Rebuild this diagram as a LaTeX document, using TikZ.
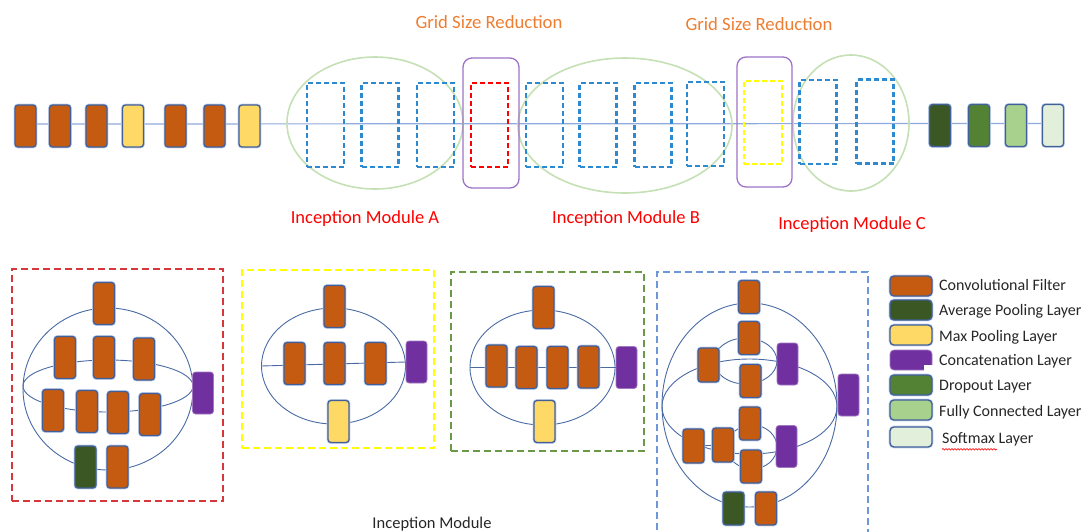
\documentclass[tikz,border=0pt]{standalone}
\usepackage{fontspec}
\setmainfont{Carlito}
\usetikzlibrary{shapes.geometric,backgrounds,decorations.pathmorphing}
\definecolor{cconv}{HTML}{C55A11}
\definecolor{cbord}{HTML}{41609A}
\definecolor{cmpool}{HTML}{FFD966}
\definecolor{capool}{HTML}{3A5724}
\definecolor{cdrop}{HTML}{548235}
\definecolor{cfc}{HTML}{A9D18E}
\definecolor{csmax}{HTML}{E2EFDA}
\definecolor{cconcat}{HTML}{7030A0}
\definecolor{cdash}{HTML}{2E8AD0}
\definecolor{cellg}{HTML}{C5E0B4}
\definecolor{cgrp}{HTML}{9E72C8}
\definecolor{caxis}{HTML}{8FAADC}
\definecolor{cttl}{HTML}{ED7D31}
\definecolor{cpline}{HTML}{4A6AA5}
\definecolor{cpred}{HTML}{D6373A}
\definecolor{cpyel}{HTML}{FFFF00}
\definecolor{cpgrn}{HTML}{6A9A48}
\definecolor{cpblu}{HTML}{6E96D8}
\definecolor{ctxt}{HTML}{262626}
\tikzset{
  blk/.style={rectangle, rounded corners=3pt, draw=cbord, line width=1.3pt,
    minimum width=21pt, minimum height=42pt, inner sep=0pt, outer sep=0pt,
    preaction={draw=caxis!55, line width=2.8pt}},
  sblk/.style={blk, minimum height=33pt},
  lblk/.style={blk, minimum width=42pt, minimum height=20pt, rounded corners=4pt},
  fconv/.style={fill=cconv},
  fmpool/.style={fill=cmpool},
  fapool/.style={fill=capool},
  fdrop/.style={fill=cdrop},
  ffc/.style={fill=cfc},
  fsmax/.style={fill=csmax},
  cc/.style={rectangle, rounded corners=3pt, fill=cconcat, draw=cconcat!65!white,
    line width=0.8pt, minimum width=21pt, minimum height=42pt, inner sep=0pt},
  dbox/.style={rectangle, draw=cdash, line width=2.2pt, dash pattern=on 5pt off 3pt,
    minimum width=37pt, minimum height=84pt, inner sep=0pt},
  gell/.style={ellipse, draw=cellg, line width=1.6pt, inner sep=0pt},
  grp/.style={rectangle, rounded corners=9pt, draw=cgrp, line width=1.3pt,
    minimum width=56pt, minimum height=130pt, inner sep=0pt},
  pell/.style={ellipse, draw=cpline, line width=0.9pt, inner sep=0pt},
  panel/.style={rectangle, line width=2pt, dash pattern=on 7pt off 4pt, inner sep=0pt},
  ttl/.style={text=cttl, font=\fontsize{18.7}{20}\selectfont},
  mod/.style={text=red, font=\fontsize{18.5}{20}\selectfont},
  lgt/.style={text=ctxt, font=\fontsize{16}{18}\selectfont, anchor=base west, inner sep=0pt},
}
\begin{document}
\begin{tikzpicture}[x=1pt,y=-1pt]
\useasboundingbox (0,0) rectangle (1091,531);
% ---------- top row ----------
\node[gell, minimum width=176pt, minimum height=132pt] (eA) at (375,123) {};
\node[gell, minimum width=214pt, minimum height=135pt] (eB) at (625,125.5) {};
\node[gell, minimum width=116pt, minimum height=136pt] (eC) at (851,123) {};
\node[grp] (gr1) at (491,123) {};
\node[grp, minimum width=55pt] (gr2) at (764.5,122) {};

\node[blk,fconv] (b1) at (25.5,126) {};
\node[blk,fconv] (b2) at (60,126) {};
\node[blk,fconv] (b3) at (96.5,126) {};
\node[blk,fmpool] (b4) at (133,126) {};
\node[blk,fconv] (b5) at (175.5,126) {};
\node[blk,fconv] (b6) at (214.5,126) {};
\node[blk,fmpool] (b7) at (249.5,126) {};

\node[dbox] (dA1) at (325.5,125) {};
\node[dbox] (dA2) at (380,125) {};
\node[dbox] (dA3) at (435.5,125) {};
\node[dbox, draw=red] (dR) at (489.5,125) {};
\node[dbox] (dB1) at (544.5,125) {};
\node[dbox] (dB2) at (598,125) {};
\node[dbox] (dB3) at (653,125) {};
\node[dbox] (dB4) at (705.5,124) {};
\node[dbox, draw=cpyel, minimum width=38pt, minimum height=83pt] (dY) at (763,122.5) {};
\node[dbox] (dC1) at (818,122) {};
\node[dbox] (dC2) at (875,121.5) {};

\node[blk,fapool] (f1) at (940,125.5) {};
\node[blk,fdrop] (f2) at (979,125.5) {};
\node[blk,ffc] (f3) at (1016,125.5) {};
\node[blk,fsmax] (f4) at (1053,125.5) {};

\begin{pgfonlayer}{background}
\draw[caxis, line width=1.2pt] ([yshift=2pt]b1.center) -- ([yshift=2pt]f4.center);
\end{pgfonlayer}

\node[ttl] (t1) at (489,22) {Grid Size Reduction};
\node[ttl] (t2) at (759,24) {Grid Size Reduction};
\node[mod] (mA) at (365,219) {Inception Module A};
\node[mod] (mB) at (626,219) {Inception Module B};
\node[mod] (mC) at (852,225) {Inception Module C};

% ---------- panel 1 ----------
\node[panel, draw=cpred, minimum width=211pt, minimum height=232pt] (pan1) at (117.5,385) {};
\node[pell, minimum width=170pt, minimum height=162pt] (o1) at (108,389) {};
\node[pell, minimum width=170pt, minimum height=52pt] (i1) at (108,386) {};
\node[blk,fconv] (p1a) at (104,303.5) {};
\node[blk,fconv] (p1b) at (65,357.5) {};
\node[blk,fconv] (p1c) at (104,357.5) {};
\node[blk,fconv] (p1d) at (144,359) {};
\node[blk,fconv] (p1e) at (53,410.5) {};
\node[blk,fconv] (p1f) at (87,411.5) {};
\node[blk,fconv] (p1g) at (118,412.5) {};
\node[blk,fconv] (p1h) at (150,414.5) {};
\node[blk,fapool] (p1i) at (85.5,467) {};
\node[blk,fconv] (p1j) at (117.5,467) {};
\node[cc] (p1k) at (203,393) {};

% ---------- panel 2 ----------
\node[panel, draw=cpyel, minimum width=192pt, minimum height=178pt] (pan2) at (338,359) {};
\node[pell, minimum width=144pt, minimum height=116pt] (o2) at (333.5,366) {};
\node[cc] (p2p) at (416.5,362) {};
\draw[cpline, line width=0.9pt] (o2.west) -- (p2p.west);
\node[blk,fconv] (p2a) at (334.5,306.5) {};
\node[blk,fconv] (p2b) at (294.5,363.5) {};
\node[blk,fconv] (p2c) at (334.5,363.5) {};
\node[blk,fconv] (p2d) at (375.5,363.5) {};
\node[blk,fmpool] (p2e) at (338.5,421.5) {};

% ---------- panel 3 ----------
\node[panel, draw=cpgrn, minimum width=193pt, minimum height=179pt] (pan3) at (547.5,361.5) {};
\node[pell, minimum width=145pt, minimum height=115pt] (o3) at (542.5,367.5) {};
\node[cc] (p3p) at (626.5,367.5) {};
\draw[cpline, line width=0.9pt] (o3.west) -- (p3p.west);
\node[blk,fconv] (p3a) at (543.5,307.5) {};
\node[blk,fconv] (p3b) at (496.5,366) {};
\node[blk,fconv] (p3c) at (526.5,367.5) {};
\node[blk,fconv] (p3d) at (557.5,367.5) {};
\node[blk,fconv] (p3e) at (588.5,367) {};
\node[blk,fmpool] (p3f) at (544.5,421.5) {};

% ---------- panel 4 ----------
\node[panel, draw=cpblu, minimum width=211pt, minimum height=273pt] (pan4) at (762.5,408.5) {};
\node[pell, minimum width=175pt, minimum height=204pt] (o4) at (749.5,405) {};
\node[pell, minimum width=175pt, minimum height=95pt] (m4) at (749.5,406.5) {};
\node[pell, minimum width=63pt, minimum height=46pt] (u4) at (745.5,361) {};
\node[pell, minimum width=50pt, minimum height=44pt] (l4) at (752,447) {};
\node[sblk,fconv] (p4a) at (749,297) {};
\node[sblk,fconv] (p4b) at (749,338) {};
\node[sblk,fconv] (p4c) at (750.5,381) {};
\node[sblk,fconv, minimum height=34pt] (p4d) at (708.5,365) {};
\node[sblk,fconv] (p4e) at (750,423.5) {};
\node[sblk,fconv, minimum height=34pt] (p4f) at (693.5,446) {};
\node[sblk,fconv, minimum height=34pt] (p4g) at (723,445) {};
\node[sblk,fconv] (p4h) at (751,466.5) {};
\node[sblk,fapool] (p4i) at (733.5,508.5) {};
\node[sblk,fconv] (p4j) at (766,508.5) {};
\node[cc] (p4u) at (787.5,364) {};
\node[cc] (p4r) at (848.5,395) {};
\node[cc] (p4l) at (786.5,446.5) {};
\begin{pgfonlayer}{background}
\draw[cpline, line width=0.9pt] (p4f.center) -- (p4g.center);
\end{pgfonlayer}

\node[text=ctxt, font=\fontsize{16.5}{18}\selectfont, anchor=base] (im) at (432,528) {Inception Module};

% ---------- legend ----------
\node[lblk,fconv] (g1) at (911,286) {};
\node[lblk,fapool] (g2) at (911,310) {};
\node[lblk,fmpool] (g3) at (911,335) {};
\node[cc, minimum width=42pt, minimum height=20pt, rounded corners=4pt] (g4) at (911,360) {};
\fill[white] ([xshift=-8pt,yshift=-1pt]g4.south east) rectangle ([xshift=1pt,yshift=5pt]g4.south east);
\node[lblk,fdrop] (g5) at (911,385) {};
\node[lblk,ffc] (g6) at (911,410) {};
\node[lblk,fsmax] (g7) at (911,437) {};
\node[lgt] (l1) at (939,290) {Convolutional Filter};
\node[lgt] (l2) at (939,315.5) {Average Pooling Layer};
\node[lgt] (l3) at (939,341.5) {Max Pooling Layer};
\node[lgt] (l4t) at (939,365.5) {Concatenation Layer};
\node[lgt] (l5) at (939,390.5) {Dropout Layer};
\node[lgt] (l6) at (939,416.5) {Fully Connected Layer};
\node[lgt] (l7) at (942,443.5) {Softmax Layer};
\draw[red, line width=0.6pt, decorate, decoration={snake, amplitude=0.8pt, segment length=3pt}]
  ([yshift=-3pt]l7.south west) -- ([xshift=55pt,yshift=-3pt]l7.south west);
\end{tikzpicture}
\end{document}
